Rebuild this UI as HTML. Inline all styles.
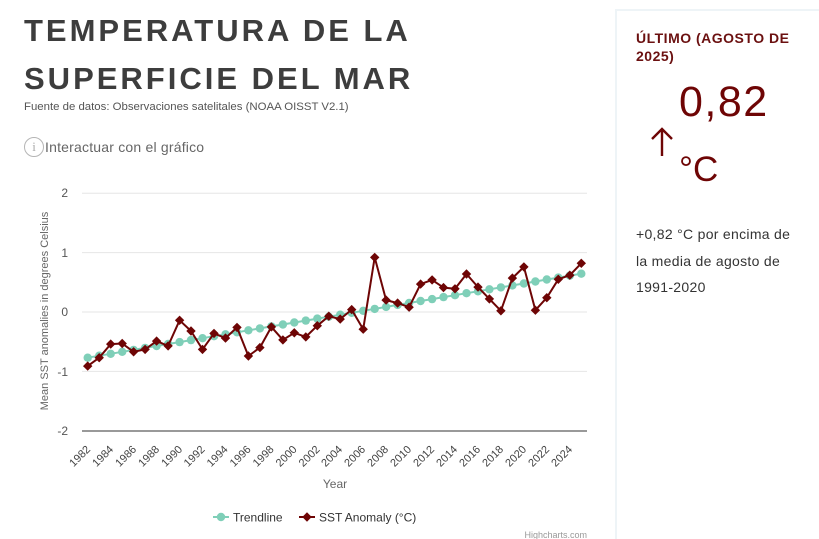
<!DOCTYPE html>
<html><head><meta charset="utf-8">
<style>
html,body{margin:0;padding:0;background:#fff;width:819px;height:539px;overflow:hidden;}
body{position:relative;font-family:"Liberation Sans",Arial,sans-serif;}
.t{position:absolute;left:24px;font-weight:bold;color:#3d3d3d;font-size:31px;letter-spacing:3px;white-space:nowrap;line-height:1;}
.sub{position:absolute;left:24px;top:101px;font-size:11.4px;color:#555;white-space:nowrap;}
.info{position:absolute;left:24px;top:137px;width:18px;height:18px;border:1.5px solid #b5b5b5;border-radius:50%;color:#aaa;font-size:13px;text-align:center;line-height:18px;font-family:"Liberation Serif",serif;}
.inter{position:absolute;left:45px;top:139px;font-size:14px;color:#666;white-space:nowrap;letter-spacing:0.2px;}
.panel{position:absolute;left:615px;top:9px;width:240px;height:545px;border:2px solid #eef4f7;box-sizing:border-box;}
.ult{position:absolute;left:636px;top:29px;font-size:14px;font-weight:bold;color:#6b1010;line-height:18px;letter-spacing:0.5px;white-space:nowrap;}
.big{position:absolute;left:679px;top:81px;font-size:43px;color:#6e0505;letter-spacing:1.5px;line-height:1;}
.deg{position:absolute;left:679px;top:152px;font-size:35px;color:#6e0505;line-height:1;}
.para{position:absolute;left:636px;top:221px;font-size:14px;color:#333;line-height:26.5px;white-space:nowrap;letter-spacing:0.3px;}
</style></head><body>
<div class="t" style="top:15px;">TEMPERATURA DE LA</div>
<div class="t" style="top:63px;">SUPERFICIE DEL MAR</div>
<div class="sub">Fuente de datos: Observaciones satelitales (NOAA OISST V2.1)</div>
<div class="info">i</div>
<div class="inter">Interactuar con el gráfico</div>

<div class="panel"></div>
<div class="ult">ÚLTIMO (AGOSTO DE<br>2025)</div>
<div class="big">0,82</div>
<svg style="position:absolute;left:645px;top:124px;" width="34" height="36"><path d="M17 5 L17 32 M7 15 L17 5 L27 15" stroke="#6e0505" stroke-width="2.4" fill="none"/></svg>
<div class="deg">°C</div>
<div class="para">+0,82 °C por encima de<br>la media de agosto de<br>1991-2020</div>

<svg style="position:absolute;left:0;top:0;" width="600" height="539" font-family="Liberation Sans, Arial, sans-serif">
<defs>
<marker id="c" markerUnits="userSpaceOnUse" markerWidth="10" markerHeight="10" refX="5" refY="5"><circle cx="5" cy="5" r="4.2" fill="#7fcfb8"/></marker>
<marker id="d" markerUnits="userSpaceOnUse" markerWidth="12" markerHeight="12" refX="6" refY="6"><path d="M6 1.3 L10.7 6 L6 10.7 L1.3 6 Z" fill="#6e0505"/></marker>
</defs>
<g stroke="#e6e6e6" stroke-width="1">
<line x1="82" y1="193.2" x2="587" y2="193.2"/>
<line x1="82" y1="252.6" x2="587" y2="252.6"/>
<line x1="82" y1="312" x2="587" y2="312"/>
<line x1="82" y1="371.4" x2="587" y2="371.4"/>
</g>
<line x1="82" y1="431" x2="587" y2="431" stroke="#999" stroke-width="2"/>
<g font-size="12" fill="#555" text-anchor="end">
<text x="68" y="197">2</text>
<text x="68" y="257">1</text>
<text x="68" y="316">0</text>
<text x="68" y="376">-1</text>
<text x="68" y="435">-2</text>
</g>
<text transform="translate(48,311) rotate(-90)" text-anchor="middle" font-size="11" fill="#666">Mean SST anomalies in degrees Celsius</text>

<polyline fill="none" stroke="#7fcfb8" stroke-width="2" marker-start="url(#c)" marker-mid="url(#c)" marker-end="url(#c)" points="87.7,357.7 99.2,355.7 110.7,353.8 122.2,351.8 133.6,349.9 145.1,347.9 156.6,346.0 168.1,344.0 179.6,342.1 191.0,340.1 202.5,338.2 214.0,336.2 225.5,334.3 237.0,332.3 248.4,330.3 259.9,328.4 271.4,326.4 282.9,324.5 294.3,322.5 305.8,320.6 317.3,318.6 328.8,316.7 340.2,314.7 351.7,312.8 363.2,310.8 374.7,308.9 386.1,306.9 397.6,304.9 409.1,303.0 420.6,301.0 432.1,299.1 443.5,297.1 455.0,295.2 466.5,293.2 478.0,291.3 489.4,289.3 500.9,287.4 512.4,285.4 523.9,283.5 535.4,281.5 546.8,279.5 558.3,277.6 569.8,275.6 581.3,273.7"/>
<polyline fill="none" stroke="#6e0505" stroke-width="2" stroke-linejoin="round" marker-start="url(#d)" marker-mid="url(#d)" marker-end="url(#d)" points="87.7,366.1 99.2,357.7 110.7,344.1 122.2,343.5 133.6,351.8 145.1,349.4 156.6,341.1 168.1,345.9 179.6,320.3 191.0,331.0 202.5,349.4 214.0,333.4 225.5,338.1 237.0,327.4 248.4,356.0 259.9,347.6 271.4,326.9 282.9,339.9 294.3,332.8 305.8,336.9 317.3,325.7 328.8,316.2 340.2,319.1 351.7,309.6 363.2,329.2 374.7,257.4 386.1,300.1 397.6,303.1 409.1,307.2 420.6,284.1 432.1,279.9 443.5,287.6 455.0,288.8 466.5,274.0 478.0,287.1 489.4,298.9 500.9,310.8 512.4,278.1 523.9,266.9 535.4,310.2 546.8,297.7 558.3,279.3 569.8,275.2 581.3,263.3"/>

<g font-size="11" fill="#444" text-anchor="end">
<text transform="translate(91,450) rotate(-45)">1982</text>
<text transform="translate(114,450) rotate(-45)">1984</text>
<text transform="translate(137,450) rotate(-45)">1986</text>
<text transform="translate(160,450) rotate(-45)">1988</text>
<text transform="translate(183,450) rotate(-45)">1990</text>
<text transform="translate(205.5,450) rotate(-45)">1992</text>
<text transform="translate(228.5,450) rotate(-45)">1994</text>
<text transform="translate(251.5,450) rotate(-45)">1996</text>
<text transform="translate(274.5,450) rotate(-45)">1998</text>
<text transform="translate(297.5,450) rotate(-45)">2000</text>
<text transform="translate(320.5,450) rotate(-45)">2002</text>
<text transform="translate(343,450) rotate(-45)">2004</text>
<text transform="translate(366,450) rotate(-45)">2006</text>
<text transform="translate(389,450) rotate(-45)">2008</text>
<text transform="translate(412,450) rotate(-45)">2010</text>
<text transform="translate(435,450) rotate(-45)">2012</text>
<text transform="translate(458,450) rotate(-45)">2014</text>
<text transform="translate(481,450) rotate(-45)">2016</text>
<text transform="translate(504,450) rotate(-45)">2018</text>
<text transform="translate(527,450) rotate(-45)">2020</text>
<text transform="translate(550,450) rotate(-45)">2022</text>
<text transform="translate(573,450) rotate(-45)">2024</text>
</g>
<text x="335" y="488" text-anchor="middle" font-size="12" fill="#666">Year</text>

<line x1="213" y1="517" x2="229" y2="517" stroke="#7fcfb8" stroke-width="2"/>
<circle cx="221" cy="517" r="4.2" fill="#7fcfb8"/>
<text x="233" y="521.5" font-size="12" fill="#333">Trendline</text>
<line x1="299" y1="517" x2="315" y2="517" stroke="#6e0505" stroke-width="2"/>
<path d="M307 512.3 L311.7 517 L307 521.7 L302.3 517 Z" fill="#6e0505"/>
<text x="319" y="521.5" font-size="12" fill="#333">SST Anomaly (°C)</text>

<text x="587" y="538" text-anchor="end" font-size="9" fill="#999">Highcharts.com</text>
</svg>
</body></html>
